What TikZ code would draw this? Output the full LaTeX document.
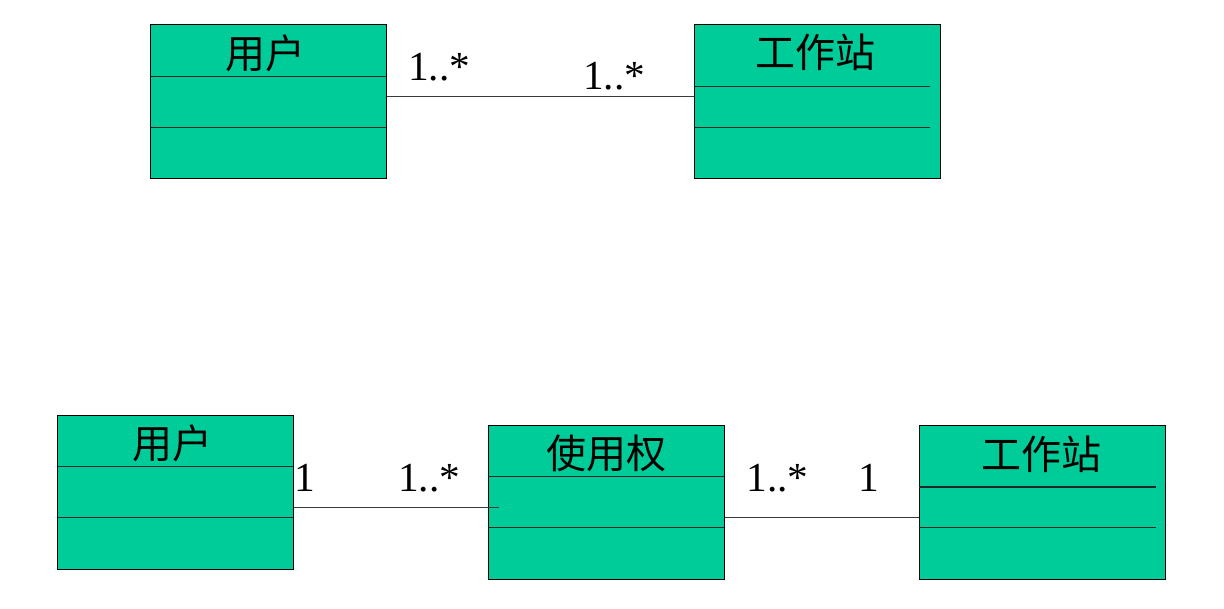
\documentclass[tikz,border=0pt]{standalone}
\usepackage{fontspec}
\setmainfont{Liberation Serif}
\newfontfamily\cjk{Noto Sans CJK SC}
\definecolor{umlgreen}{HTML}{00CC99}
\definecolor{assocgray}{HTML}{3A3A3A}
\tikzset{every picture/.style={line width=0.75pt}}
\tikzset{
	classbox/.style={draw=black, fill=umlgreen, rectangle, inner sep=0pt, minimum height=115.5pt},
	divider/.style={draw=black!85, line width=0.9pt},
	assoc/.style={draw=assocgray, line width=0.95pt},
	title/.style={font=\cjk\fontsize{30}{30}\selectfont, inner sep=0pt},
	mult/.style={font=\fontsize{31}{31}\selectfont, inner sep=0pt, anchor=base}
}

\begin{document}
\begin{tikzpicture}[x=0.75pt,y=0.75pt,yscale=-1,xscale=1]
	\useasboundingbox (0,0) rectangle (1224,609);

	%Shape: Rectangle [id:userTop]
	\node [classbox, minimum width=177pt] (userTop) at (268,102) {};
	%Shape: Rectangle [id:stationTop]
	\node [classbox, minimum width=184.5pt] (stationTop) at (817,102) {};
	%Shape: Rectangle [id:userBot]
	\node [classbox, minimum width=177pt] (userBot) at (175.3,492) {};
	%Shape: Rectangle [id:grant]
	\node [classbox, minimum width=177pt] (grant) at (606,502.3) {};
	%Shape: Rectangle [id:stationBot]
	\node [classbox, minimum width=184.5pt] (stationBot) at (1042.6,502.3) {};

	%Straight Lines [id:dividers]
	\draw [divider] (150,76.7) -- (386,76.7) ;
	\draw [divider] (150,127.7) -- (386,127.7) ;
	\draw [divider] (694,86.7) -- (929.5,86.7) ;
	\draw [divider] (694,127.7) -- (929.5,127.7) ;
	\draw [divider] (57.3,466.7) -- (293.3,466.7) ;
	\draw [divider] (57.3,517.7) -- (293.3,517.7) ;
	\draw [divider] (488.3,476.7) -- (724,476.7) ;
	\draw [divider] (488.3,527.7) -- (724,527.7) ;
	\draw [divider] (919.3,487) -- (1155.7,487) ;
	\draw [divider] (919.3,527.7) -- (1155.7,527.7) ;

	%Straight Lines [id:associations]
	\coordinate (grantIn) at (499.3,507.3) ;
	\draw [assoc] (userTop.east |- 0,96.7) -- (stationTop.west |- 0,96.7) ;
	\draw [assoc] (userBot.east |- grantIn) -- (grantIn) ;
	\draw [assoc] (grant.east |- 0,517.7) -- (stationBot.west |- 0,517.7) ;

	% Text Node
	\node [title] (userTopName) at (265,53) {用户};
	% Text Node
	\node [title] (stationTopName) at (815.5,52.5) {工作站};
	% Text Node
	\node [title] (userBotName) at (172.5,443) {用户};
	% Text Node
	\node [title] (grantName) at (606,453.7) {使用权};
	% Text Node
	\node [title] (stationBotName) at (1041.7,454.3) {工作站};

	% Text Node
	\node [mult] (multA) at (439,80.7) {1..*};
	% Text Node
	\node [mult] (multB) at (614,90) {1..*};
	% Text Node
	\node [mult] (multC) at (305.3,491) {1};
	% Text Node
	\node [mult] (multD) at (429.2,491) {1..*};
	% Text Node
	\node [mult] (multE) at (777.5,491.7) {1..*};
	% Text Node
	\node [mult] (multF) at (869,491.7) {1};

\end{tikzpicture}
\end{document}
